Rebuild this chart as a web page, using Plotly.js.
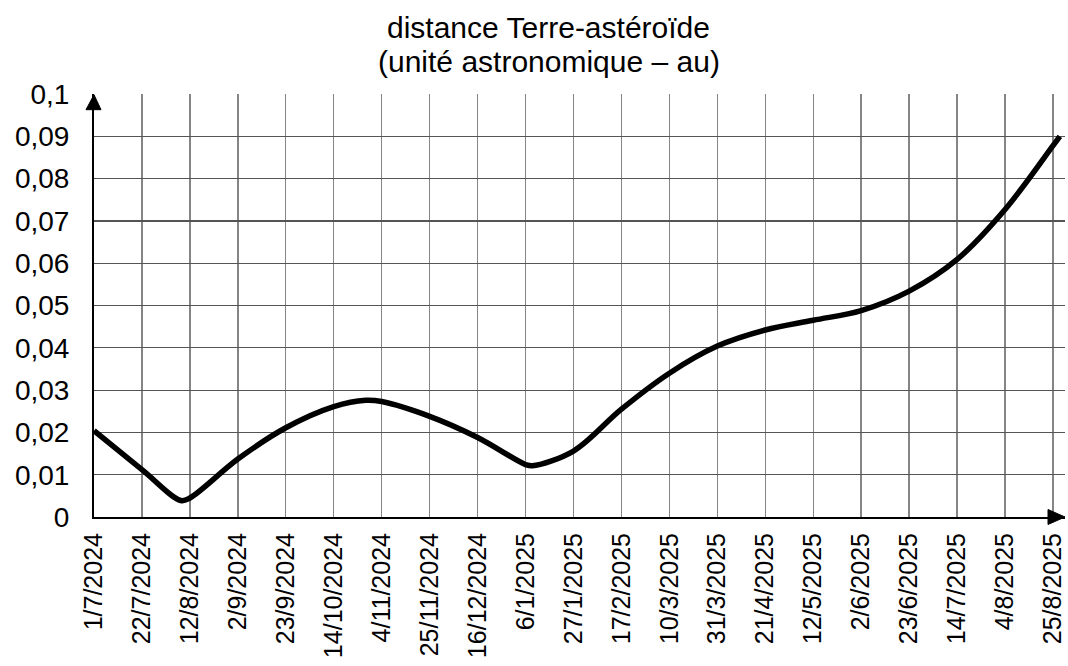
<!DOCTYPE html>
<html>
<head>
<meta charset="utf-8">
<script src="https://cdn.plot.ly/plotly-3.0.1.min.js"></script>
<style>html,body{margin:0;padding:0;background:#fff;}#chart{width:1068px;height:666px;}</style>
</head>
<body>
<div id="chart"></div>
<script>
// Data
const dates = ['2024-07-01','2024-07-22','2024-08-08','2024-08-12','2024-09-02','2024-09-23','2024-10-14','2024-10-28','2024-11-04','2024-11-25','2024-12-16','2025-01-06','2025-01-09','2025-01-27','2025-02-17','2025-03-10','2025-03-31','2025-04-21','2025-05-12','2025-06-02','2025-06-23','2025-07-14','2025-08-04','2025-08-25','2025-08-28'];
const distances = [0.0204,0.0112,0.0039,0.0045,0.0137,0.0211,0.0261,0.0276,0.0273,0.0238,0.0188,0.0124,0.0121,0.0156,0.0255,0.0340,0.0404,0.0442,0.0465,0.0488,0.0534,0.0609,0.0727,0.0878,0.0900];

const tickDates = ['2024-07-01','2024-07-22','2024-08-12','2024-09-02','2024-09-23','2024-10-14','2024-11-04','2024-11-25','2024-12-16','2025-01-06','2025-01-27','2025-02-17','2025-03-10','2025-03-31','2025-04-21','2025-05-12','2025-06-02','2025-06-23','2025-07-14','2025-08-04','2025-08-25'];
const tickLabels = ['1/7/2024','22/7/2024','12/8/2024','2/9/2024','23/9/2024','14/10/2024','4/11/2024','25/11/2024','16/12/2024','6/1/2025','27/1/2025','17/2/2025','10/3/2025','31/3/2025','21/4/2025','12/5/2025','2/6/2025','23/6/2025','14/7/2025','4/8/2025','25/8/2025'];
const yTickVals = [0,0.01,0.02,0.03,0.04,0.05,0.06,0.07,0.08,0.09,0.1];
const yTickLabels = ['0','0,01','0,02','0,03','0,04','0,05','0,06','0,07','0,08','0,09','0,1'];
const titleLines = ['distance Terre-astéroïde', '(unité astronomique – au)'];

const FONT = '"Liberation Sans", Arial, Helvetica, sans-serif';

const trace = {
  x: dates, y: distances, type: 'scatter', mode: 'lines',
  line: {color: '#000', width: 5.5, shape: 'spline', smoothing: 1},
  hoverinfo: 'x+y', cliponaxis: false
};

const layout = {
  width: 1068, height: 666,
  margin: {l: 94, r: 3, t: 94.3, b: 148.5, pad: 0},
  paper_bgcolor: '#fff', plot_bgcolor: '#fff',
  showlegend: false,
  font: {family: FONT, color: '#000'},
  annotations: [
    {text: titleLines[0], xref: 'paper', yref: 'paper', x: (548-94)/971, y: (517.5-28)/423.2,
     xanchor: 'center', yanchor: 'middle', showarrow: false,
     font: {family: FONT, size: 30, color: '#000'}},
    {text: titleLines[1], xref: 'paper', yref: 'paper', x: (549-94)/971, y: (517.5-62)/423.2,
     xanchor: 'center', yanchor: 'middle', showarrow: false,
     font: {family: FONT, size: 30, color: '#000'}}
  ],
  xaxis: {
    type: 'date',
    range: ['2024-07-01', '2025-08-30 06:15'],
    tickvals: tickDates, ticktext: tickLabels,
    tickangle: -90,
    tickfont: {family: FONT, size: 25, color: '#000'},
    ticks: '', ticklabelstandoff: 4,
    showgrid: true, gridcolor: '#858585', gridwidth: 1.4,
    showline: true, linecolor: '#000', linewidth: 2,
    zeroline: false, fixedrange: true
  },
  yaxis: {
    range: [0, 0.1],
    tickvals: yTickVals, ticktext: yTickLabels,
    tickfont: {family: FONT, size: 28, color: '#000'},
    ticks: '', ticklabelstandoff: 17,
    showgrid: true, gridcolor: '#555', gridwidth: 1.2,
    showline: true, linecolor: '#000', linewidth: 2,
    zeroline: false, fixedrange: true
  },
  shapes: [
    {type: 'path', xref: 'paper', yref: 'paper',
     path: 'M -0.00824 0.9629 L 0 0.9983 L 0.00721 0.9629 Z',
     fillcolor: '#000', line: {color: '#000', width: 1}},
    {type: 'path', xref: 'paper', yref: 'paper',
     path: 'M 0.9825 0.0177 L 1 0 L 0.9825 -0.0177 Z',
     fillcolor: '#000', line: {color: '#000', width: 1}}
  ]
};

Plotly.newPlot('chart', [trace], layout, {displayModeBar: false, staticPlot: true});
</script>
</body>
</html>
